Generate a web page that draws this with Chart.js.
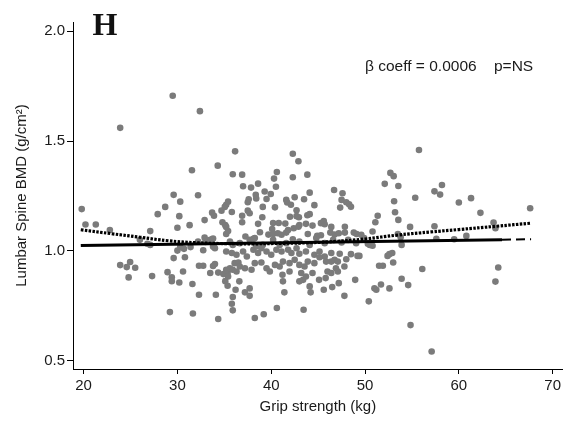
<!DOCTYPE html>
<html>
<head>
<meta charset="utf-8">
<script src="https://cdn.jsdelivr.net/npm/chart.js@4.4.1/dist/chart.umd.min.js"></script>
<style>
  html, body { margin: 0; padding: 0; background: #fff; }
  #wrap { width: 566px; height: 423px; }
</style>
</head>
<body>
<div id="wrap"><canvas id="chart" width="566" height="423"></canvas></div>
<script>
// Axis ticks
const xTicks = [20, 30, 40, 50, 60, 70];
const yTicks = [0.5, 1.0, 1.5, 2.0];

// Subjects: [grip strength (kg), lumbar spine BMD (g/cm2)]
const subjects = [
  [29.5,1.706],[32.4,1.636],[23.9,1.56],[31.55,1.367],[34.3,1.388],[19.8,1.19],[29.6,1.255],[32.2,1.253],
  [30.3,1.224],[28.7,1.20],[27.9,1.167],[30.2,1.158],[20.2,1.12],[21.3,1.12],[31.3,1.117],[30.0,1.105],
  [32.9,1.14],[33.7,1.174],[33.9,1.16],[34.7,1.183],[35.05,1.20],[35.2,1.21],[35.4,1.224],[34.8,1.13],
  [35.1,1.117],[22.8,1.095],[27.1,1.09],
  [36.15,1.453],[42.3,1.442],[42.9,1.408],[35.9,1.349],[36.9,1.347],[40.6,1.359],[40.3,1.329],[42.3,1.335],
  [43.85,1.347],[37.0,1.294],[37.85,1.288],[38.6,1.306],[40.5,1.292],[39.95,1.259],[39.3,1.27],[38.35,1.255],
  [38.4,1.238],[37.6,1.235],[37.5,1.221],[39.5,1.236],[35.8,1.177],[37.5,1.183],[37.7,1.171],[36.9,1.16],
  [39.1,1.20],[40.4,1.198],[39.05,1.153],[41.6,1.232],[41.7,1.22],[42.1,1.21],[42.5,1.244],[43.5,1.235],
  [44.1,1.265],[44.6,1.208],[42.7,1.185],[42.0,1.155],[42.7,1.158],[42.95,1.153],[43.85,1.162],[44.1,1.167],
  [46.7,1.277],[47.6,1.262],[47.5,1.232],[47.35,1.197],[48.0,1.221],[48.3,1.212],[48.5,1.201],[35.2,1.109],
  [36.9,1.13],[38.6,1.123],[40.2,1.127],[40.8,1.127],[41.5,1.124],[43.0,1.118],[43.7,1.123],[44.4,1.115],
  [45.3,1.126],[45.6,1.136],[45.7,1.121],[46.4,1.109],[47.85,1.11],
  [55.75,1.459],[52.7,1.355],[53.05,1.34],[52.1,1.305],[53.55,1.295],[57.4,1.271],[58.2,1.30],[58.0,1.256],
  [55.35,1.242],[53.1,1.226],[53.2,1.176],[53.55,1.141],[51.35,1.16],[51.1,1.13],[60.0,1.22],[61.3,1.24],
  [62.3,1.173],[67.6,1.194],[54.8,1.109],[57.4,1.112],[63.7,1.129],
  [26.0,1.05],[26.8,1.032],[27.1,1.027],[35.2,1.077],[35.4,1.09],[30.0,1.001],[30.7,1.009],[30.3,1.017],
  [29.6,0.967],[30.8,0.971],[31.4,1.017],[32.2,1.042],[32.75,1.003],[33.0,1.04],[33.3,1.047],[33.7,1.053],
  [33.9,1.017],[35.2,0.997],[23.9,0.935],[24.6,0.926],[24.96,0.949],[25.5,0.923],[24.8,0.879],[27.3,0.885],
  [28.95,0.903],[29.4,0.88],[29.4,0.862],[30.2,0.856],[30.6,0.906],[31.6,0.849],[32.3,0.932],[32.75,0.932],
  [34.0,0.94],[33.5,0.899],[34.35,0.901],[34.9,0.894],[35.35,0.899],[35.1,0.862],[35.35,0.841],[32.3,0.80],
  [34.1,0.80],[29.2,0.721],[31.65,0.715],[34.35,0.69],
  [37.25,1.065],[38.1,1.055],[38.8,1.085],[39.7,1.074],[40.1,1.099],[40.2,1.077],[40.7,1.08],[41.1,1.073],
  [41.6,1.083],[41.8,1.095],[42.4,1.103],[42.9,1.11],[43.9,1.077],[44.9,1.068],[45.3,1.071],[46.3,1.083],
  [46.75,1.074],[47.2,1.08],[47.85,1.083],[48.8,1.083],[49.1,1.077],[49.6,1.073],[32.9,1.06],[33.5,1.05],
  [33.8,1.056],
  [33.8,1.02],[35.6,1.042],[35.9,1.027],[36.65,1.035],[37.7,1.05],[38.25,1.058],[38.4,1.02],[39.1,1.027],
  [40.2,1.05],[40.9,1.027],[41.6,1.035],[42.3,1.053],[43.0,1.042],[44.1,1.027],[44.8,1.058],[45.7,1.035],
  [46.6,1.05],[47.5,1.038],[48.2,1.05],[49.05,1.035],[49.9,1.058],
  [34.0,1.012],[35.8,0.99],[36.3,0.982],[37.0,0.997],[37.4,0.974],[38.1,1.005],[38.6,0.99],[38.95,1.012],
  [39.5,0.997],[40.0,0.982],[40.55,1.005],[41.1,0.997],[41.8,1.005],[42.15,0.99],[42.7,1.012],[43.0,0.987],
  [43.7,0.997],[44.6,0.982],[45.15,0.997],[45.7,0.974],[46.4,0.99],[47.3,0.987],[48.5,0.985],[49.2,0.977],
  [33.8,0.931],[35.2,0.914],[35.6,0.921],[35.9,0.914],[36.1,0.944],[36.5,0.947],[36.65,0.929],[37.2,0.921],
  [37.9,0.914],[38.25,0.944],[38.95,0.947],[39.5,0.921],[39.85,0.906],[40.4,0.936],[40.9,0.929],[41.25,0.951],
  [41.95,0.944],[42.5,0.959],[43.0,0.936],[43.55,0.929],[43.9,0.951],[44.6,0.944],[45.15,0.971],[45.85,0.951],
  [46.4,0.951],[46.75,0.959],[47.1,0.951],[47.8,0.929],[48.0,0.962],
  [35.4,0.883],[36.3,0.906],[36.6,0.861],[41.25,0.861],[41.2,0.891],[41.95,0.906],[43.2,0.899],[43.4,0.868],
  [43.0,0.861],[43.7,0.883],[44.4,0.899],[45.1,0.868],[45.8,0.876],[46.0,0.906],[46.4,0.899],[46.9,0.921],
  [47.1,0.906],[48.95,0.868],
  [36.2,0.823],[37.2,0.811],[37.7,0.829],[37.7,0.795],[35.9,0.79],[35.8,0.759],[35.9,0.729],[41.4,0.811],
  [44.1,0.838],[44.2,0.811],[45.6,0.823],[46.5,0.835],[47.2,0.853],[47.8,0.795],[38.25,0.694],[39.2,0.711],
  [40.6,0.74],[43.45,0.732],
  [63.9,1.103],[50.8,1.088],[53.5,1.077],[53.8,1.062],[57.6,1.055],[59.5,1.053],[60.8,1.068],[50.5,1.027],
  [50.8,1.023],[50.3,1.032],[53.9,1.027],[52.4,0.977],[52.6,0.985],[52.9,0.99],[53.0,0.947],[49.4,0.977],
  [51.5,0.932],[51.9,0.932],[56.1,0.917],[53.9,0.873],[54.6,0.844],[51.7,0.847],[51.0,0.83],[51.2,0.823],
  [52.6,0.829],[64.2,0.924],[63.9,0.86],[50.4,0.77],[54.85,0.662],[57.1,0.542]
];

// Smoothed trend (dotted)
const smoothX = [19.7, 23, 26, 29, 32, 35, 38, 41, 44, 47, 50, 53.5, 57, 60, 64, 67.7];
const smoothY = [1.096, 1.078, 1.062, 1.046, 1.037, 1.033, 1.032, 1.034, 1.037, 1.043, 1.054, 1.072, 1.086, 1.097, 1.112, 1.126];

// Linear fit (solid) and its dashed continuation
const linearX = [19.7, 64.6];
const linearY = [1.024, 1.051];
const linearTailX = [64.6, 67.7];
const linearTailY = [1.051, 1.053];

const panelLabel = 'H';
const statLabel = ['\u03B2 coeff = 0.0006', 'p=NS'];

const toXY = (xs, ys) => xs.map((x, i) => ({ x: x, y: ys[i] }));

const sans = "'Liberation Sans', Arial, Helvetica, sans-serif";
const textColor = '#1a1a1a';

const labels = {
  id: 'labels',
  afterDraw(chart) {
    const ctx = chart.ctx;
    ctx.save();
    ctx.fillStyle = '#111';
    ctx.textBaseline = 'alphabetic';
    ctx.textAlign = 'left';
    ctx.font = "bold 32px 'Liberation Serif', 'Times New Roman', serif";
    ctx.fillText(panelLabel, 92.5, 35);
    ctx.font = '15.5px ' + sans;
    ctx.fillStyle = textColor;
    ctx.fillText(statLabel[0], 365, 70.5);
    ctx.fillText(statLabel[1], 494, 70.5);
    ctx.restore();
  }
};

new Chart(document.getElementById('chart'), {
  type: 'scatter',
  data: {
    datasets: [
      {
        label: 'smooth',
        data: toXY(smoothX, smoothY),
        showLine: true,
        borderColor: '#000',
        borderWidth: 3.2,
        borderDash: [2.5, 1.4],
        tension: 0.4,
        pointRadius: 0,
        fill: false,
        order: 0
      },
      {
        label: 'linear',
        data: toXY(linearX, linearY),
        showLine: true,
        borderColor: '#000',
        borderWidth: 3,
        pointRadius: 0,
        fill: false,
        order: 1
      },
      {
        label: 'linear tail',
        data: toXY(linearTailX, linearTailY),
        showLine: true,
        borderColor: '#000',
        borderWidth: 2,
        borderDash: [9, 5],
        pointRadius: 0,
        fill: false,
        order: 2
      },
      {
        label: 'subjects',
        data: subjects.map(p => ({ x: p[0], y: p[1] })),
        backgroundColor: '#7b7b7b',
        borderWidth: 0,
        pointRadius: 3.3,
        pointHoverRadius: 3.3,
        order: 3
      }
    ]
  },
  options: {
    responsive: false,
    animation: false,
    devicePixelRatio: 1,
    layout: { padding: { top: 22, right: 2, left: 0, bottom: 0 } },
    plugins: {
      legend: { display: false },
      tooltip: { enabled: false }
    },
    scales: {
      x: {
        type: 'linear',
        min: 18.87,
        max: 71.07,
        afterBuildTicks: s => { s.ticks = xTicks.map(v => ({ value: v })); },
        afterFit: s => { s.height = 54; },
        ticks: {
          font: { family: sans, size: 15 },
          color: textColor,
          padding: 3,
          maxRotation: 0,
          autoSkip: false
        },
        grid: { drawOnChartArea: false, drawTicks: true, tickLength: 5, color: '#000', lineWidth: 1 },
        border: { display: true, color: '#000', width: 1 },
        title: {
          display: true,
          text: 'Grip strength (kg)',
          font: { family: sans, size: 15 },
          color: textColor,
          padding: { top: 0, bottom: 7 }
        }
      },
      y: {
        type: 'linear',
        min: 0.462,
        max: 2.042,
        afterBuildTicks: s => { s.ticks = yTicks.map(v => ({ value: v })); },
        afterFit: s => { s.width = 73; },
        ticks: {
          font: { family: sans, size: 15 },
          color: textColor,
          padding: 2,
          callback: v => Number(v).toFixed(1)
        },
        grid: { drawOnChartArea: false, drawTicks: true, tickLength: 6, color: '#000', lineWidth: 1 },
        border: { display: true, color: '#000', width: 1 },
        title: {
          display: true,
          text: 'Lumbar Spine BMD (g/cm\u00B2)',
          font: { family: sans, size: 15 },
          color: textColor,
          padding: { top: 12.5, bottom: 0 }
        }
      }
    }
  },
  plugins: [labels]
});
</script>
</body>
</html>
